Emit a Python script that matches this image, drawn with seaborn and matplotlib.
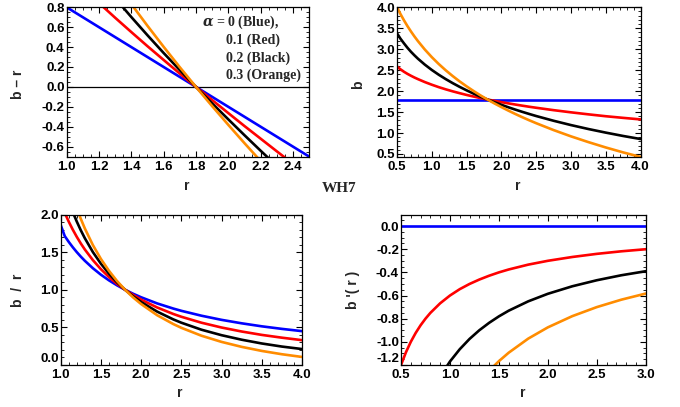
import matplotlib
matplotlib.use("Agg")
import matplotlib.pyplot as plt
from matplotlib.ticker import MultipleLocator, FormatStrFormatter
import seaborn as sns

# ---------------- data ----------------
# Panel 1: b - r versus r
r1 = [1.0, 1.1, 1.2, 1.3, 1.4, 1.5, 1.6, 1.7, 1.8, 1.9, 2.0, 2.1, 2.2, 2.3, 2.4, 2.5]
bmr_blue = [0.8, 0.7, 0.6, 0.5, 0.4, 0.3, 0.2, 0.1, 0.0, -0.1, -0.2, -0.3, -0.4, -0.5, -0.6, -0.7]
bmr_red = [1.153, 0.995, 0.843, 0.695, 0.551, 0.409, 0.271, 0.134, 0.0, -0.132, -0.263, -0.393, -0.520, -0.647, -0.773, -0.897]
bmr_black = [1.505, 1.291, 1.087, 0.891, 0.702, 0.519, 0.341, 0.169, 0.0, -0.165, -0.326, -0.485, -0.641, -0.794, -0.945, -1.094]
bmr_orange = [1.811, 1.547, 1.297, 1.060, 0.832, 0.614, 0.403, 0.198, 0.0, -0.193, -0.381, -0.565, -0.745, -0.922, -1.095, -1.265]

# Panel 2: b versus r
r2 = [0.5, 0.55, 0.6, 0.65, 0.7, 0.75, 0.8, 0.9, 1.0, 1.1, 1.2, 1.3, 1.4, 1.5, 1.6, 1.7, 1.8,
      1.9, 2.0, 2.1, 2.2, 2.3, 2.4, 2.5, 2.75, 3.0, 3.25, 3.5, 3.75, 4.0]
b_blue = [1.8] * 30
b_red = [2.59, 2.52, 2.462, 2.412, 2.367, 2.325, 2.287, 2.216, 2.153, 2.095, 2.043, 1.995, 1.951, 1.909,
         1.871, 1.834, 1.8, 1.768, 1.737, 1.708, 1.680, 1.653, 1.627, 1.603, 1.546, 1.494, 1.446,
         1.401, 1.362, 1.325]
b_black = [3.38, 3.25, 3.14, 3.035, 2.940, 2.855, 2.775, 2.632, 2.505, 2.391, 2.287, 2.191, 2.102, 2.019,
           1.941, 1.869, 1.8, 1.735, 1.674, 1.615, 1.559, 1.506, 1.455, 1.406, 1.293, 1.190, 1.096,
           1.010, 0.930, 0.857]
b_orange = [4.003, 3.839, 3.690, 3.552, 3.425, 3.306, 3.195, 2.992, 2.811, 2.647, 2.497, 2.360, 2.232,
            2.114, 2.003, 1.898, 1.8, 1.707, 1.619, 1.535, 1.455, 1.378, 1.305, 1.235, 1.071, 0.921,
            0.784, 0.656, 0.538, 0.430]

# Panel 3: b / r versus r
r3 = [1.0, 1.05, 1.1, 1.15, 1.2, 1.25, 1.3, 1.4, 1.5, 1.6, 1.7, 1.8, 1.9, 2.0, 2.2, 2.4, 2.5,
      2.75, 3.0, 3.25, 3.5, 3.75, 4.0]
bor_blue = [1.86, 1.714, 1.636, 1.565, 1.5, 1.44, 1.385, 1.286, 1.2, 1.125, 1.059, 1.0, 0.947, 0.9,
            0.818, 0.75, 0.72, 0.655, 0.6, 0.554, 0.514, 0.48, 0.45]
bor_red = [2.153, 2.022, 1.905, 1.799, 1.703, 1.615, 1.535, 1.394, 1.273, 1.169, 1.079, 1.0, 0.931,
           0.869, 0.764, 0.678, 0.641, 0.562, 0.498, 0.445, 0.400, 0.363, 0.330]
bor_black = [2.505, 2.330, 2.174, 2.033, 1.906, 1.790, 1.685, 1.501, 1.346, 1.213, 1.099, 1.0, 0.913,
             0.837, 0.709, 0.606, 0.562, 0.469, 0.396, 0.336, 0.286, 0.245, 0.212]
bor_orange = [2.811, 2.597, 2.406, 2.236, 2.081, 1.942, 1.815, 1.594, 1.409, 1.252, 1.116, 1.0, 0.898,
              0.810, 0.661, 0.544, 0.494, 0.389, 0.307, 0.241, 0.187, 0.143, 0.107]

# Panel 4: b'(r) versus r
r4 = [0.5, 0.55, 0.6, 0.65, 0.7, 0.75, 0.8, 0.9, 1.0, 1.1, 1.2, 1.3, 1.4, 1.5, 1.6, 1.8, 2.0,
      2.25, 2.5, 2.75, 3.0]
db_blue = [0.0] * 21
db_red = [-1.2, -1.091, -1.0, -0.923, -0.857, -0.8, -0.75, -0.667, -0.6, -0.545, -0.5, -0.462,
          -0.429, -0.4, -0.375, -0.333, -0.3, -0.267, -0.24, -0.218, -0.2]
db_black = [-2.34, -2.127, -1.95, -1.8, -1.671, -1.56, -1.463, -1.3, -1.17, -1.064, -0.975, -0.9,
            -0.836, -0.78, -0.731, -0.65, -0.585, -0.52, -0.468, -0.425, -0.39]
db_orange = [-3.5, -3.182, -2.917, -2.692, -2.5, -2.333, -2.188, -1.944, -1.75, -1.591, -1.458,
             -1.346, -1.25, -1.167, -1.094, -0.972, -0.875, -0.778, -0.7, -0.636, -0.583]

# tick values of each panel
xt1 = [1.0, 1.2, 1.4, 1.6, 1.8, 2.0, 2.2, 2.4]
yt1 = [-0.6, -0.4, -0.2, 0.0, 0.2, 0.4, 0.6, 0.8]
xt2 = [0.5, 1.0, 1.5, 2.0, 2.5, 3.0, 3.5, 4.0]
yt2 = [0.5, 1.0, 1.5, 2.0, 2.5, 3.0, 3.5, 4.0]
xt3 = [1.0, 1.5, 2.0, 2.5, 3.0, 3.5, 4.0]
yt3 = [0.0, 0.5, 1.0, 1.5, 2.0]
xt4 = [0.5, 1.0, 1.5, 2.0, 2.5, 3.0]
yt4 = [-1.2, -1.0, -0.8, -0.6, -0.4, -0.2, 0.0]

legend_lines = ["$\\alpha$ = 0 (Blue),", "0.1 (Red)", "0.2 (Black)", "0.3 (Orange)"]
colors = ["#0000ff", "#ff0000", "#000000", "#ff8c00"]

# ---------------- style ----------------
sns.set_style("ticks")
plt.rcParams['font.family'] = ['Liberation Sans', 'DejaVu Sans']
plt.rcParams['font.weight'] = 'bold'
plt.rcParams['mathtext.fontset'] = 'dejavuserif'
plt.rcParams['axes.linewidth'] = 0.9

fig = plt.figure(figsize=(6.8, 4.07), dpi=100)
W, H = 680.0, 407.0


def add_ax(l, t, r, b):
    return fig.add_axes([l / W, 1 - b / H, (r - l) / W, (b - t) / H])


ax1 = add_ax(66.7, 7.3, 309.0, 156.5)
ax2 = add_ax(397.0, 7.3, 640.5, 156.5)
ax3 = add_ax(60.7, 214.5, 302.0, 365.0)
ax4 = add_ax(401.0, 214.5, 645.7, 365.0)


def draw(ax, x, ys):
    for y, c in zip(ys, colors):
        sns.lineplot(x=x, y=y, color=c, linewidth=1.9, ax=ax, legend=False)


draw(ax1, r1, [bmr_blue, bmr_red, bmr_black, bmr_orange])
draw(ax2, r2, [b_blue, b_red, b_black, b_orange])
draw(ax3, r3, [bor_blue, bor_red, bor_black, bor_orange])
draw(ax4, r4, [db_blue, db_red, db_black, db_orange])

ax1.axhline(0.0, color="black", linewidth=0.9, zorder=0)


def style(ax, xlim, ylim, xt, yt, xmin, ymin):
    ax.set_xlim(*xlim)
    ax.set_ylim(*ylim)
    ax.set_xticks(xt)
    ax.set_yticks(yt)
    ax.xaxis.set_minor_locator(MultipleLocator(xmin))
    ax.yaxis.set_minor_locator(MultipleLocator(ymin))
    ax.xaxis.set_major_formatter(FormatStrFormatter('%.1f'))
    ax.yaxis.set_major_formatter(FormatStrFormatter('%.1f'))
    ax.tick_params(which='both', direction='in', top=True, right=True,
                   labelsize=9.5, colors='black')
    ax.tick_params(axis='x', which='both', pad=3)
    ax.tick_params(axis='y', which='both', pad=1.5)
    ax.tick_params(which='major', length=4, width=0.8)
    ax.tick_params(which='minor', length=2, width=0.6)
    ax.set_xlabel("")
    ax.set_ylabel("")
    for lab in ax.get_xticklabels() + ax.get_yticklabels():
        lab.set_fontweight('bold')
    for s in ax.spines.values():
        s.set_visible(True)
        s.set_color('black')


style(ax1, (1.0, 2.5), (-0.7, 0.8), xt1, yt1, 0.05, 0.05)
style(ax2, (0.5, 4.0), (0.44, 4.0), xt2, yt2, 0.1, 0.1)
style(ax3, (1.0, 4.0), (0.0, 2.0), xt3, yt3, 0.1, 0.1)
style(ax4, (0.5, 3.0), (-1.2, 0.1), xt4, yt4, 0.1, 0.05)

# keep the corner labels of the lower panels clear of each other
for ax in (ax3, ax4):
    ax.get_yticklabels()[0].set_verticalalignment('bottom')


def ftext(x, y, s, **kw):
    fig.text(x / W, 1 - y / H, s, **kw)


lab_kw = dict(fontsize=10, fontweight='bold', ha='center', va='center')
ftext(187, 186, "r", **lab_kw)
ftext(518, 186, "r", **lab_kw)
ftext(180, 393, "r", **lab_kw)
ftext(523, 393, "r", **lab_kw)
ftext(18.3, 84.5, "b \u2013 r", rotation=90, **lab_kw)
ftext(358.3, 85, "b", rotation=90, **lab_kw)
ftext(18.3, 290, "b  /  r", rotation=90, **lab_kw)
ftext(353, 290, "b '( r )", rotation=90, **lab_kw)

ftext(339, 189, "WH7", fontsize=11, fontweight='bold', ha='center', va='center',
      family=['Liberation Serif', 'DejaVu Serif'])

leg_kw = dict(fontsize=10, fontweight='bold', ha='left', va='center',
              family=['Liberation Serif', 'DejaVu Serif'])
ftext(201.7, 22.7, legend_lines[0], **leg_kw)
ftext(226, 40.3, legend_lines[1], **leg_kw)
ftext(226, 57.9, legend_lines[2], **leg_kw)
ftext(226, 75.5, legend_lines[3], **leg_kw)

fig.savefig("out.png", dpi=100)
